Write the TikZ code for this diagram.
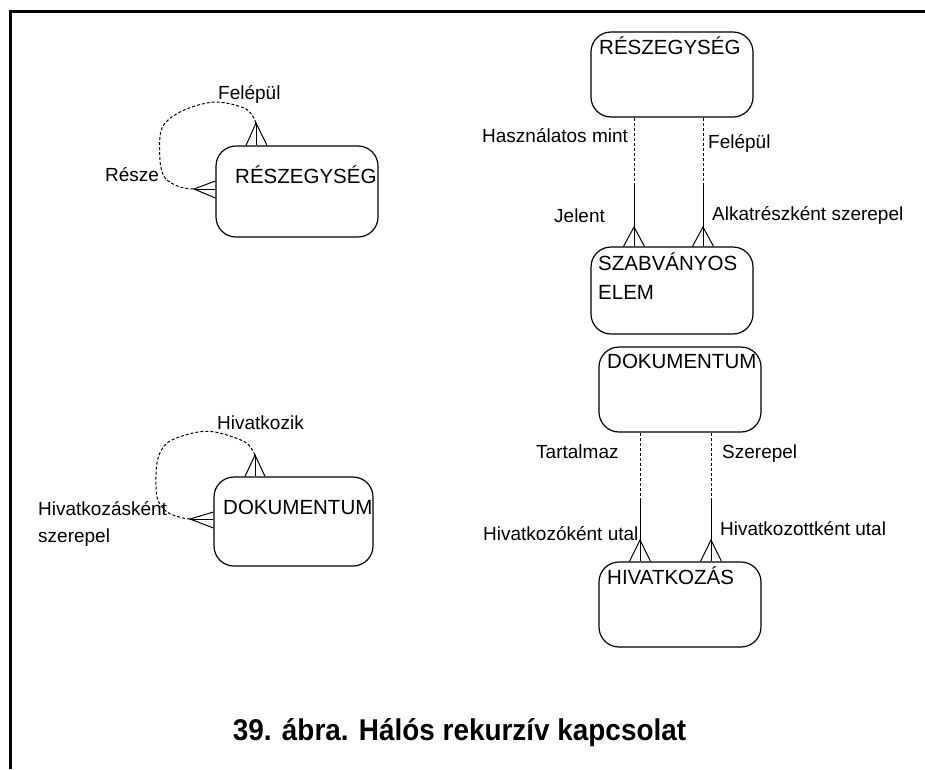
\documentclass[tikz,border=0pt]{standalone}
\usepackage{fontspec}
\setmainfont{Liberation Sans}
\begin{document}
\begin{tikzpicture}[x=1pt,y=-1pt,
  ent/.style={draw, line width=1.2pt, rounded corners=20pt, inner sep=0pt, minimum width=162pt},
  etext/.style={anchor=base west, inner sep=0pt, font=\fontsize{20.5}{24}\selectfont},
  lbl/.style={anchor=base west, inner sep=0pt, font=\fontsize{19}{23}\selectfont},
  rel/.style={line width=1pt},
  dsh/.style={line width=1pt, dash pattern=on 3pt off 2pt}]
\useasboundingbox (0,0) rectangle (925,769);
% frame
\draw[line width=3pt] (10.5,769) -- (10.5,11.5) -- (925,11.5);

% entities
\node[ent, minimum width=162pt, minimum height=91pt] (E1) at (297,191.5) {};
\node[ent, minimum width=159pt, minimum height=89pt] (E2) at (293.5,521.5) {};
\node[ent, minimum height=85pt] (E3) at (672,74.5) {};
\node[ent, minimum height=87pt] (E4) at (672,290.5) {};
\node[ent, minimum height=85pt] (E5) at (680,389.5) {};
\node[ent, minimum height=85pt] (E6) at (680,604.5) {};

\node[etext] (t1) at (235,183) {RÉSZEGYSÉG};
\node[etext] (t2) at (223,514) {DOKUMENTUM};
\node[etext] (t3) at (599,54) {RÉSZEGYSÉG};
\node[etext] (t4) at (598,270) {SZABVÁNYOS};
\node[etext] (t4b) at (598,299) {ELEM};
\node[etext] (t5) at (607,368) {DOKUMENTUM};
\node[etext] (t6) at (607,584) {HIVATKOZÁS};

% labels
\node[lbl] (l1) at (218,99) {Felépül};
\node[lbl] (l2) at (105,181) {Része};
\node[lbl] (l3) at (217,429) {Hivatkozik};
\node[lbl] (l4) at (38,515) {Hivatkozásként};
\node[lbl] (l4b) at (38,542) {szerepel};
\node[lbl] (l5) at (482,142) {Használatos mint};
\node[lbl] (l6) at (708,148) {Felépül};
\node[lbl] (l7) at (554,222) {Jelent};
\node[lbl] (l8) at (712,220) {Alkatrészként szerepel};
\node[lbl] (l9) at (536,458) {Tartalmaz};
\node[lbl] (l10) at (722,458) {Szerepel};
\node[lbl] (l11) at (483,540) {Hivatkozóként utal};
\node[lbl] (l12) at (720,535) {Hivatkozottként utal};

\node[anchor=base, inner sep=0pt, font=\bfseries\fontsize{30}{34}\selectfont] (cap) at (459.5,740) {\scalebox{0.93}[1]{39. ábra. Hálós rekurzív kapcsolat}};

% recursive loop 1
\coordinate (a1) at (256,123);
\coordinate (b1) at (194,189);
\draw[rel] (a1) -- (256,0 |- E1.north);
\draw[rel] (246,0 |- E1.north) -- (a1) -- (267,0 |- E1.north);
\draw[rel] (b1) -- (E1.west |- 0,189);
\draw[rel] (E1.west |- 0,181) -- (b1) -- (E1.west |- 0,198);
\draw[dsh] plot[smooth, tension=0.55] coordinates {(a1) (246,109) (215,102) (182,111) (162,128) (160,160) (165,178) (180,187) (b1)};

% recursive loop 2
\coordinate (a2) at (255,455);
\coordinate (b2) at (190,519);
\draw[rel] (a2) -- (255,0 |- E2.north);
\draw[rel] (245,0 |- E2.north) -- (a2) -- (265,0 |- E2.north);
\draw[rel] (b2) -- (E2.west |- 0,519);
\draw[rel] (E2.west |- 0,512) -- (b2) -- (E2.west |- 0,528);
\draw[dsh] plot[smooth, tension=0.55] coordinates {(a2) (245,442) (215,432) (193,433) (167,443) (157,463) (157,497) (167,512) (183,518) (b2)};

% right top relations
\foreach \x/\n in {634/p, 703/q}{
  \coordinate (\n m) at (\x,183);
  \coordinate (\n a) at (\x,227);
  \draw[dsh] (\x,0 |- E3.south) -- (\n m);
  \draw[rel] (\n m) -- (\x,0 |- E4.north);
  \draw[rel] (\x-10.5,0 |- E4.north) -- (\n a) -- (\x+10.5,0 |- E4.north);
}
% right bottom relations
\foreach \x/\n in {640/r, 711/s}{
  \coordinate (\n m) at (\x,498);
  \coordinate (\n a) at (\x,540);
  \draw[dsh] (\x,0 |- E5.south) -- (\n m);
  \draw[rel] (\n m) -- (\x,0 |- E6.north);
  \draw[rel] (\x-10.5,0 |- E6.north) -- (\n a) -- (\x+10.5,0 |- E6.north);
}
\end{tikzpicture}
\end{document}
